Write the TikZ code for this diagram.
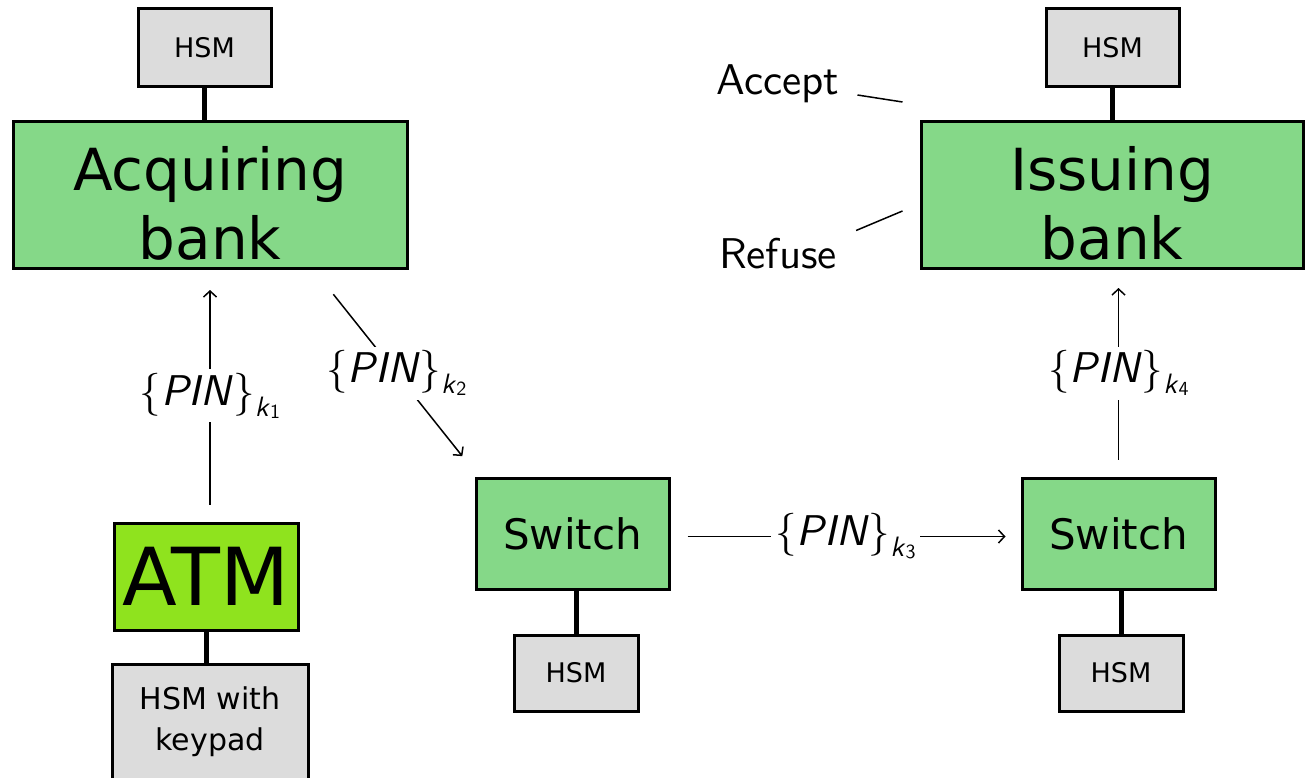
\documentclass[tikz,border=0pt]{standalone}
\usepackage{fontspec}
\usepackage{tikz}
\usetikzlibrary{arrows.meta}
\usepackage{xcolor}
\newfontfamily\boxfont{DejaVu Sans}
\newfontfamily\labelfont{lmsans10-regular.otf}[ItalicFont=lmsans10-oblique.otf]
\definecolor{bankgreen}{RGB}{133,216,136}
\definecolor{atmgreen}{RGB}{143,227,30}
\definecolor{hsmgray}{RGB}{220,220,220}
\newcommand{\pinkey}[1]{\{\textit{PIN}\}\raisebox{-11pt}{\fontsize{28}{28}\selectfont\textit{k}\raisebox{-2pt}{\fontsize{20}{20}\selectfont #1}}}
\newcommand{\banktop}{\rule{0pt}{61pt}}

\begin{document}
\begin{tikzpicture}[x=1pt,y=-1pt,
  box/.style={draw,line width=3pt,align=center,inner sep=0pt},
  bank/.style={box,fill=bankgreen,font=\boxfont\fontsize{58}{69}\selectfont},
  switchbox/.style={box,fill=bankgreen,minimum width=193pt,minimum height=111pt,font=\boxfont\fontsize{42}{50}\selectfont},
  hsm/.style={box,fill=hsmgray,font=\boxfont\fontsize{27}{32}\selectfont},
  link/.style={line width=5pt},
  flow/.style={line width=1.5pt,-{Straight Barb[length=6pt,width=13pt]}},
  pinlabel/.style={fill=white,inner sep=4pt,font=\labelfont\fontsize{43}{50}\selectfont},
  answer/.style={inner sep=2pt,font=\labelfont\fontsize{43}{50}\selectfont}]
\useasboundingbox (0,0) rectangle (1306,778);

\node[bank,minimum width=394pt,minimum height=147pt] (acq) at (210,195) {\banktop Acquiring\\bank};
\node[bank,minimum width=382pt,minimum height=147pt] (iss) at (1112,195) {\banktop Issuing\\bank};
\node[hsm,minimum width=133pt,minimum height=78pt] (hsma) at (204.5,48) {HSM};
\node[hsm,minimum width=133pt,minimum height=78pt] (hsmi) at (1112.5,48) {HSM};
\node[box,fill=atmgreen,minimum width=184pt,minimum height=107pt,font=\boxfont\fontsize{80}{82}\selectfont] (atm) at (206,576.5) {ATM};
\node[hsm,minimum width=196pt,minimum height=116pt,font=\boxfont\fontsize{30}{41}\selectfont] (pad) at (210,722) {HSM with\\keypad};
\node[switchbox] (swa) at (572.5,533.5) {Switch};
\node[switchbox] (swb) at (1118.5,533.5) {Switch};
\node[hsm,minimum width=124pt,minimum height=76pt] (hsmsa) at (576,673) {HSM};
\node[hsm,minimum width=124pt,minimum height=76pt] (hsmsb) at (1121,673) {HSM};
\node[answer,anchor=base] (acc) at (778,95) {Accept};
\node[answer,anchor=base] (ref) at (778,268) {Refuse};

\draw[link] (hsma) -- (hsma |- acq.north);
\draw[link] (hsmi) -- (hsmi |- iss.north);
\draw[link] (atm.south) -- (atm.south |- pad.north);
\draw[link] (hsmsa) -- (hsmsa |- swa.south);
\draw[link] (hsmsb) -- (hsmsb |- swb.south);

\draw[flow,shorten <=17pt,shorten >=20pt] (acq.south |- atm.north) -- node[pinlabel] {\pinkey{1}} (acq.south);
\draw[flow,shorten <=31pt,shorten >=26pt] ([xshift=104pt]acq.south) -- node[pinlabel] {\pinkey{2}} ([xshift=4pt]swa.north west);
\draw[flow,shorten <=17pt,shorten >=15pt] ([yshift=-3pt]swa.east) -- node[pinlabel] {\pinkey{3}} ([yshift=-3pt]swb.west);
\draw[flow,shorten <=17pt,shorten >=18pt] (swb.north) -- node[pinlabel] {\pinkey{4}} (swb.north |- iss.south);

\draw[line width=1.5pt] ([xshift=16pt]acc.base east) -- ([xshift=-17pt,yshift=18pt]iss.north west);
\draw[line width=1.5pt] ([xshift=17pt,yshift=5pt]ref.north east) -- ([xshift=-17pt,yshift=-16pt]iss.west);
\end{tikzpicture}
\end{document}
